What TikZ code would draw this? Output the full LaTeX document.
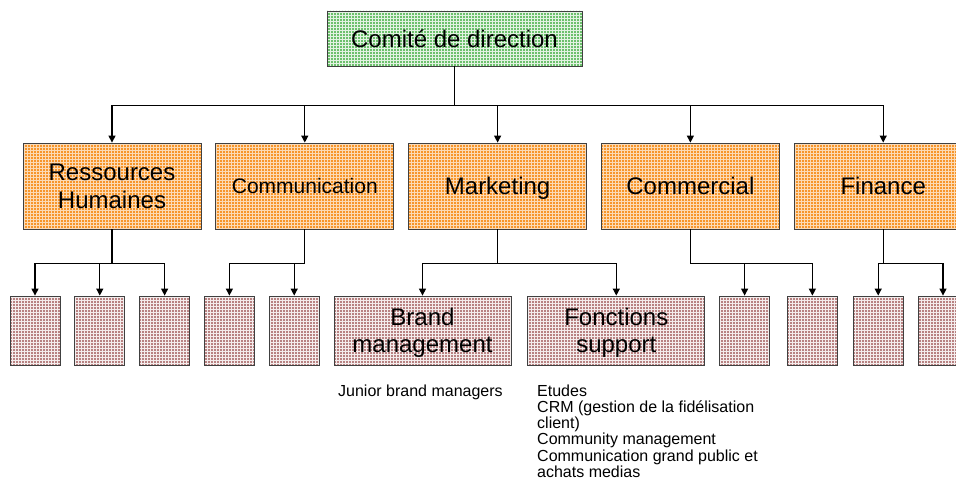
\documentclass[tikz,border=0pt]{standalone}
\usepackage{fontspec}
\setmainfont{Liberation Sans}
\usepackage{tikz}
\usetikzlibrary{positioning,arrows.meta,patterns}
\definecolor{c_green}{HTML}{6CC06C}
\definecolor{c_orange}{HTML}{F7952A}
\definecolor{c_rose}{HTML}{B88282}
\newcommand{\notefont}{\fontsize{16}{16.3}\selectfont\lineskiplimit=-20pt\relax}

\begin{document}
\begin{tikzpicture}[
        x=1pt, y=1pt,
        node distance=14pt,
        every node/.style={font=\fontsize{24}{27.5}\selectfont, align=center, inner sep=0pt},
        direction/.style={draw=black!75, line width=0.8pt, preaction={fill=c_green}, pattern=grid, pattern color=white!80!c_green, minimum width=255pt, minimum height=55pt, text depth=0pt},
        service/.style={draw=black!75, line width=0.8pt, preaction={fill=c_orange}, pattern=grid, pattern color=white!65!c_orange, minimum width=178pt, minimum height=86pt, text depth=0pt},
        unit/.style={draw=black!75, line width=0.8pt, preaction={fill=c_rose}, pattern=grid, pattern color=white!85!c_rose, minimum width=50pt, minimum height=69pt, text depth=0pt},
        wideunit/.style={unit, minimum width=177pt},
        note/.style={font=\notefont, align=left, anchor=base west},
        stem/.style={line width=1.2pt},
        link/.style={line width=1.2pt, -{Triangle[length=7pt, width=7pt]}}
    ]
        \path[use as bounding box, clip] (0,0) rectangle (956,-495);

        % top
        \node[direction] (CD) at (454.5,-38.5) {Comité de direction};

        % services
        \node[service] (RH) at (112,-186) {Ressources\\Humaines};
        \node[service] (COM) [right = of RH] {\fontsize{21}{24}\selectfont Communication};
        \node[service] (MKT) [right = of COM] {Marketing};
        \node[service] (CML) [right = of MKT] {Commercial};
        \node[service] (FIN) [right = of CML] {Finance};

        % units
        \node[unit] (RH1) at (35,-330.5) {};
        \node[unit] (RH2) [right = of RH1] {};
        \node[unit] (RH3) [right = of RH2] {};
        \node[unit] (COM1) [right = of RH3] {};
        \node[unit] (COM2) [right = of COM1] {};
        \node[wideunit] (BM) [right = of COM2] {Brand\\management};
        \node[wideunit] (FS) [right = 16pt of BM] {Fonctions\\support};
        \node[unit] (CML1) [right = of FS] {};
        \node[unit] (CML2) [right = 17pt of CML1] {};
        \node[unit] (FIN1) [right = 15pt of CML2] {};
        \node[unit] (FIN2) [right = of FIN1] {};

        % notes (base = last line)
        \node[note] (JBM) at (338,-396) {Junior brand managers};
        \node[note] (SUP) at (537,-477.5) {Etudes\\CRM (gestion de la fidélisation\\client)\\Community management\\Communication grand public et\\achats medias};

        % links
        \draw[stem] (CD.south) -- ++(0,-39) coordinate (T);
        \foreach \n in {RH,COM,MKT,CML,FIN}
            \draw[link] (T) -| (\n);

        \draw[stem] (RH.south) -- ++(0,-34) coordinate (T1);
        \foreach \n in {RH1,RH2,RH3}
            \draw[link] (T1) -| (\n);

        \draw[stem] (COM.south) -- ++(0,-34) coordinate (T2);
        \foreach \n in {COM1,COM2}
            \draw[link] (T2) -| (\n);

        \draw[stem] (MKT.south) -- ++(0,-34) coordinate (T3);
        \foreach \n in {BM,FS}
            \draw[link] (T3) -| (\n);

        \draw[stem] (CML.south) -- ++(0,-34) coordinate (T4);
        \foreach \n in {CML1,CML2}
            \draw[link] (T4) -| (\n);

        \draw[stem] (FIN.south) -- ++(0,-34) coordinate (T5);
        \foreach \n in {FIN1,FIN2}
            \draw[link] (T5) -| (\n);
    \end{tikzpicture}
\end{document}
